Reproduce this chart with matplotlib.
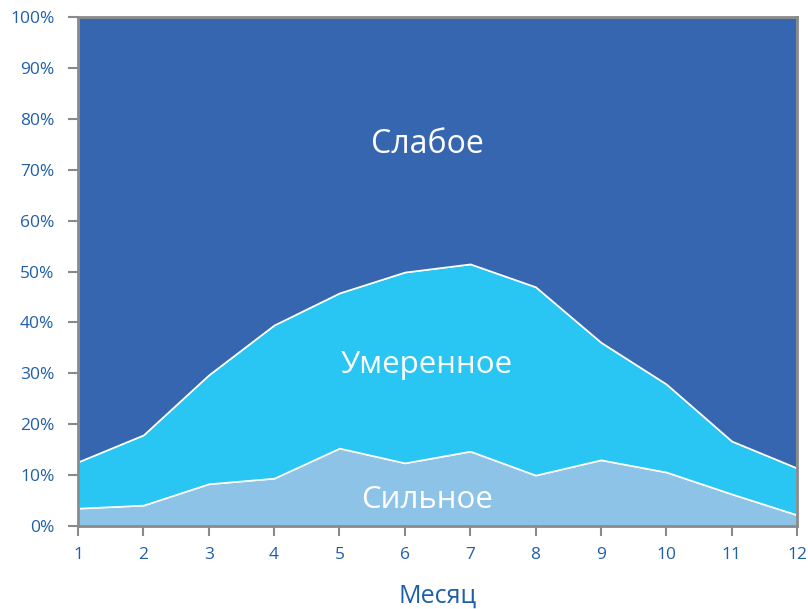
import matplotlib.pyplot as plt
import numpy as np

months = np.arange(1, 13)
strong = [3.5, 4.1, 8.3, 9.4, 15.3, 12.4, 14.7, 10.0, 13.0, 10.6, 6.3, 2.2]
moderate = [9.1, 13.8, 21.4, 30.1, 30.5, 37.5, 36.8, 37.0, 23.1, 17.3, 10.4, 9.2]
weak = [100 - s - m for s, m in zip(strong, moderate)]
labels = ['Сильное', 'Умеренное', 'Слабое']
colors = ['#8ec3e8', '#29c5f3', '#3766b1']

plt.rcParams['font.family'] = ['Open Sans', 'DejaVu Sans']
fig = plt.figure(figsize=(8.08, 6.09), dpi=100)
ax = fig.add_axes([0.0965, 0.1363, 0.8899, 0.8357])

ax.stackplot(months, strong, moderate, weak, colors=colors,
             edgecolor='white', linewidth=1.2)

ax.set_xlim(1, 12)
ax.set_ylim(0, 100)
ax.set_xticks(months)
ax.set_yticks(np.arange(0, 101, 10))
ax.set_yticklabels([f'{v}%' for v in range(0, 101, 10)])
txt = '#1f5fa8'
ax.tick_params(colors='#8a8a8a', labelcolor=txt, labelsize=12.5, width=1.5,
               length=7, direction='out')
ax.tick_params(axis='x', pad=8)
ax.tick_params(axis='y', pad=10)
for s in ax.spines.values():
    s.set_color('#8a8a8a')
    s.set_linewidth(2)

ax.set_xlabel('Месяц', color=txt, fontsize=18, labelpad=15)

ax.text(6.34, 75, labels[2], color='white', fontsize=23, ha='center', va='center')
ax.text(6.34, 31.7, labels[1], color='white', fontsize=22.5, ha='center', va='center')
ax.text(6.34, 5.1, labels[0], color='white', fontsize=22.5, ha='center', va='center')

fig.savefig('out.png', dpi=100)
